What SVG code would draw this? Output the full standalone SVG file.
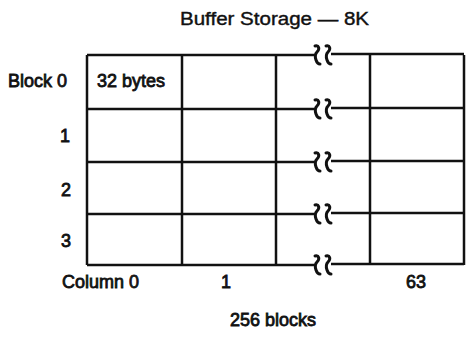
<svg xmlns="http://www.w3.org/2000/svg" width="466" height="339" viewBox="0 0 466 339">
<style>
.t{font-family:"Liberation Sans",Arial,sans-serif;fill:#111;font-size:18px}
.lb{stroke:#111;stroke-width:0.8}
.ti{stroke:#111;stroke-width:0.4}
.ln{stroke:#111;stroke-width:2.5;fill:none}
.sq{stroke:#111;stroke-width:3;fill:none;stroke-linecap:round;stroke-linejoin:round}
</style>
<defs>
<path id="sq" d="M-2,-9 C2,-10 3,-6 0,-3 C-2,-1 -2,2 -1,5 C0,8 1,9 3,9"/>
</defs>
<rect width="466" height="339" fill="#fff"/>
<text class="t ti" x="180" y="25" textLength="189" lengthAdjust="spacingAndGlyphs">Buffer Storage — 8K</text>
<g id="grid">
<path class="ln" d="M87,55 V265 M182,55 V265 M276,55 V265 M370,55 V265 M464,55 V265"/>
<path class="ln" d="M87,55 H316 M331,54 H464 M87,109 H316 M331,108 H464 M87,162 H316 M331,161 H464 M87,214 H316 M331,213 H464 M87,265 H316 M331,264 H464"/>
<g class="sq">
<use href="#sq" x="317" y="55"/><use href="#sq" x="328" y="55"/>
<use href="#sq" x="317" y="109"/><use href="#sq" x="328" y="109"/>
<use href="#sq" x="317" y="162"/><use href="#sq" x="328" y="162"/>
<use href="#sq" x="317" y="214"/><use href="#sq" x="328" y="214"/>
<use href="#sq" x="317" y="265"/><use href="#sq" x="328" y="265"/>
</g>
</g>
<g id="labels">
<text class="t lb" x="8" y="87">Block 0</text>
<text class="t lb" x="97" y="87">32 bytes</text>
<text class="t lb" x="60" y="142">1</text>
<text class="t lb" x="61" y="196">2</text>
<text class="t lb" x="61" y="247">3</text>
<text class="t lb" x="62" y="288">Column 0</text>
<text class="t lb" x="221" y="288">1</text>
<text class="t lb" x="406" y="288">63</text>
<text class="t lb" x="230" y="326">256 blocks</text>
</g>
</svg>
